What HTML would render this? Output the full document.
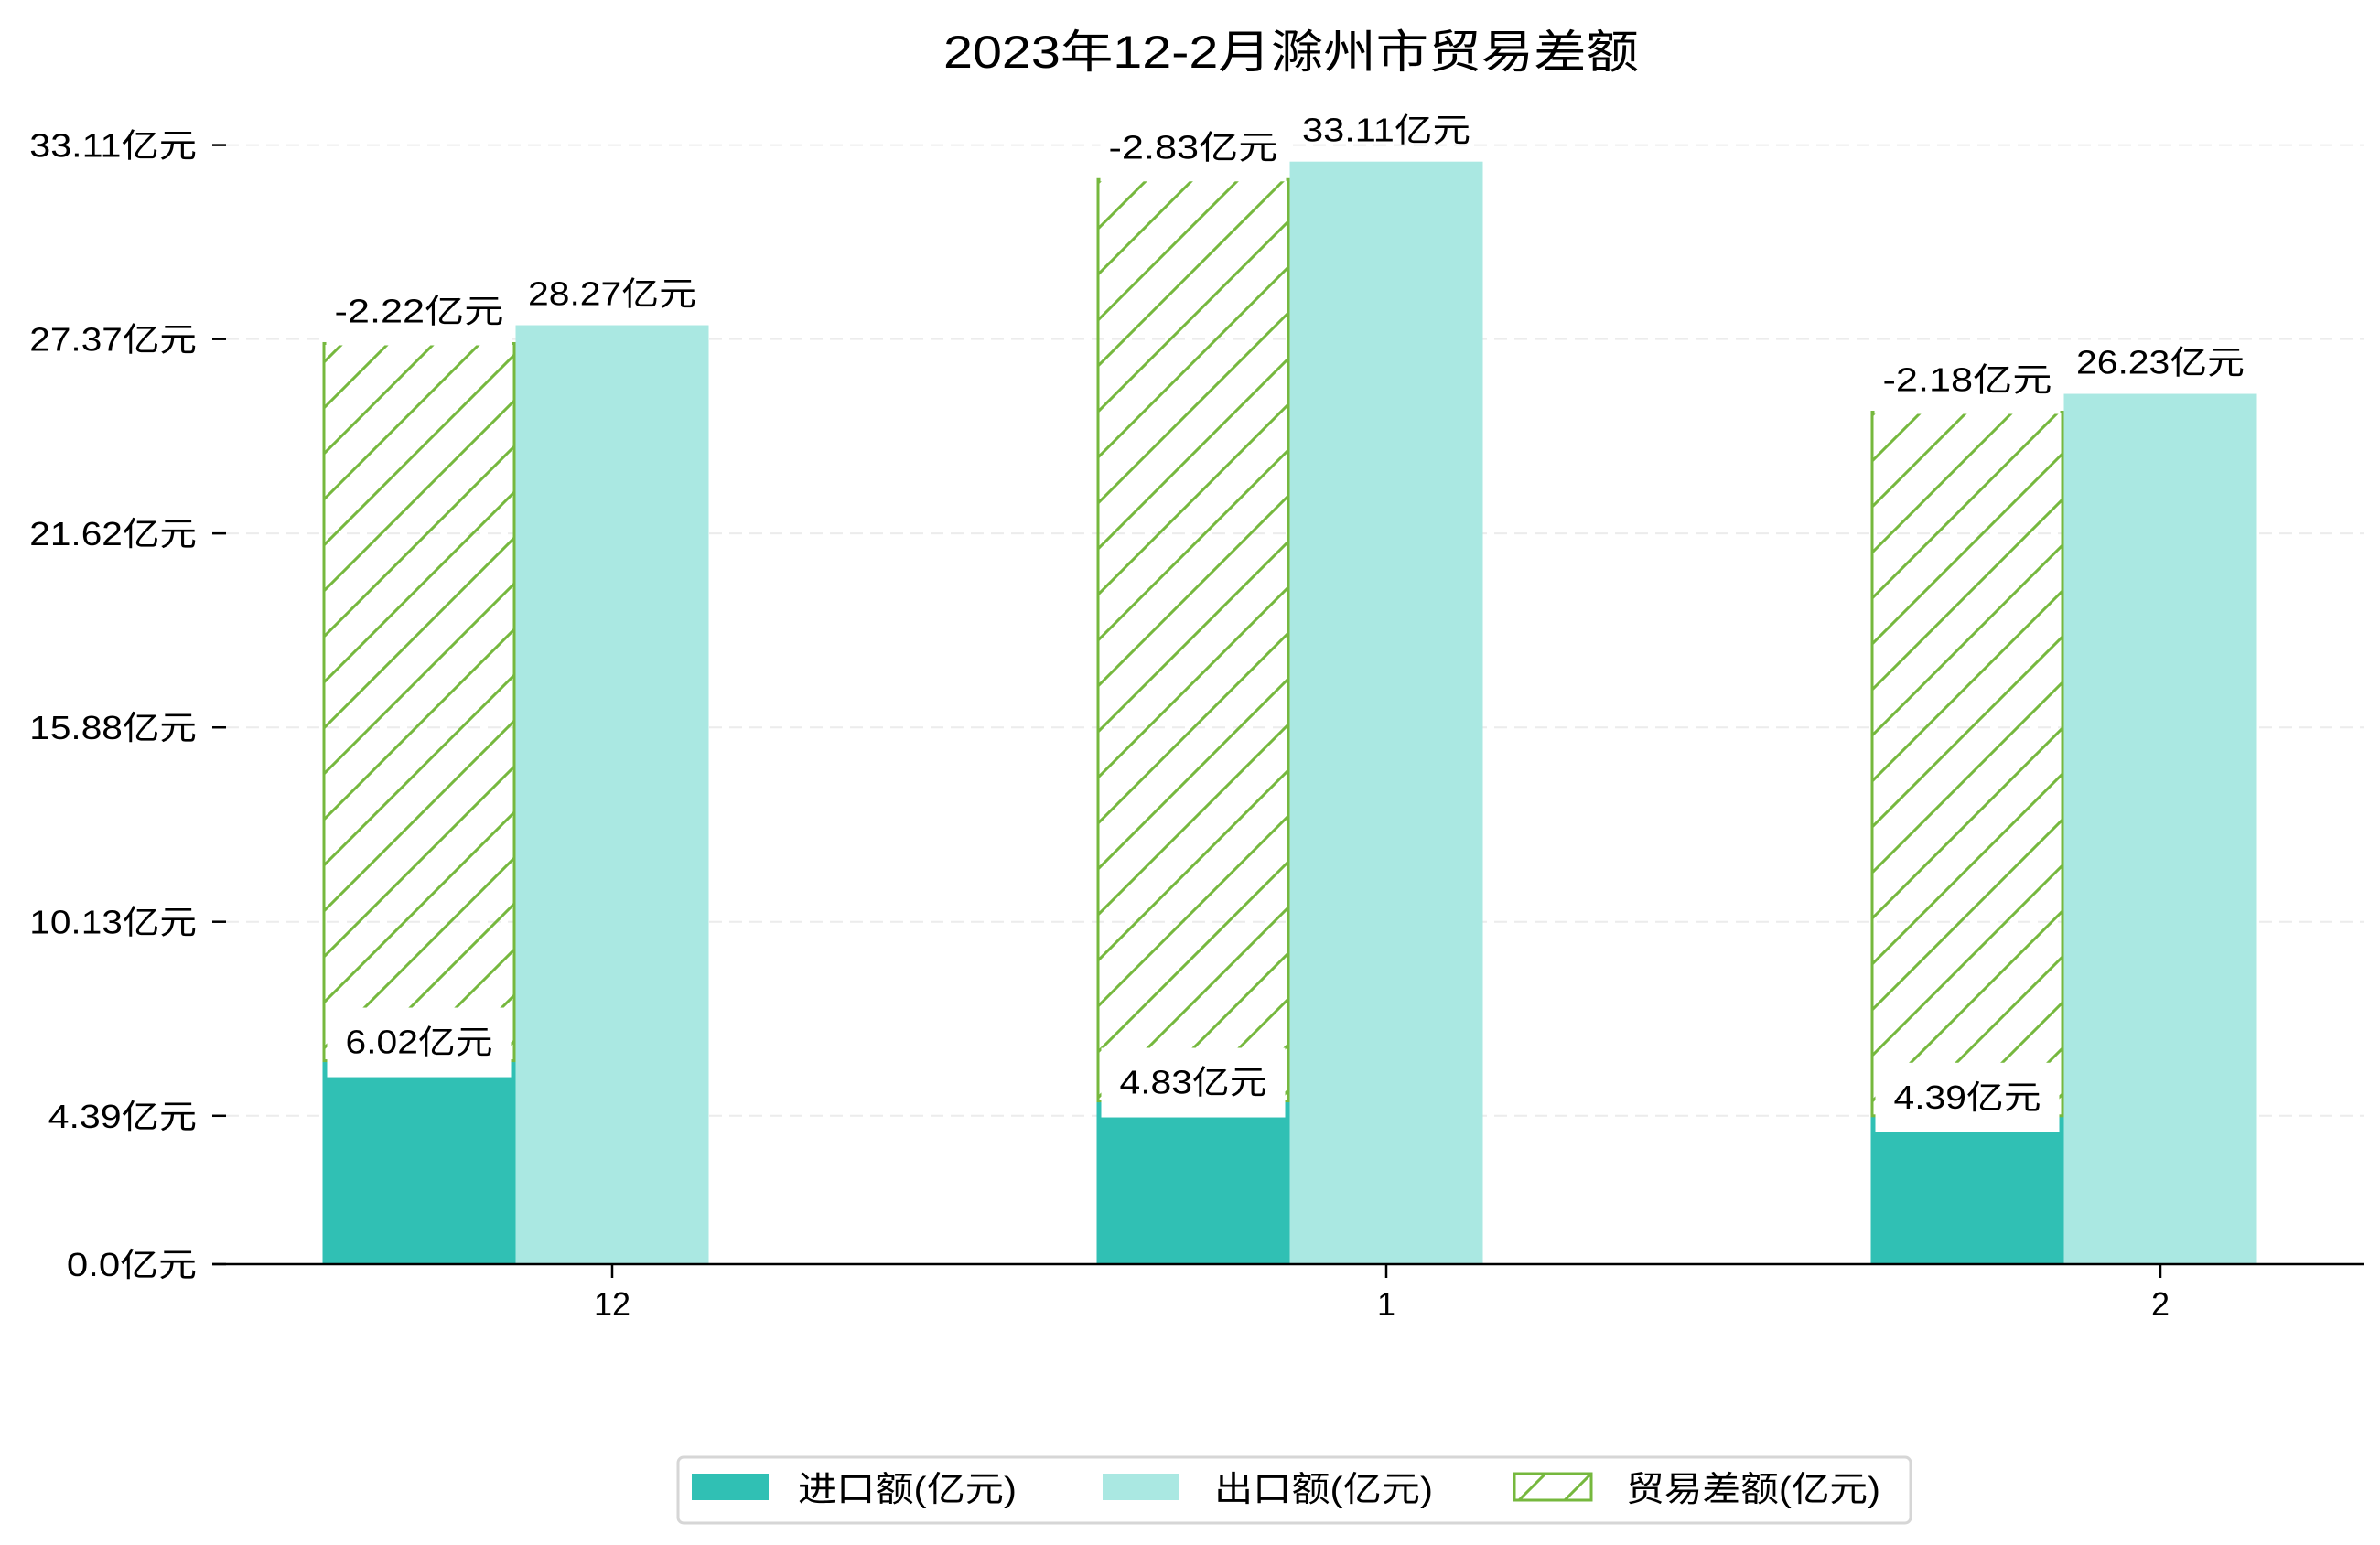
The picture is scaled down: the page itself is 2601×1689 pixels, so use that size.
<!DOCTYPE html>
<html><head><meta charset="utf-8">
<style>
html,body{margin:0;padding:0;background:#fff;}
svg{display:block;font-family:"Liberation Sans","Noto Sans CJK SC",sans-serif;}
</style></head>
<body>
<svg id="chart" width="2601" height="1689" viewBox="0 0 2601 1689" xmlns="http://www.w3.org/2000/svg">
<defs>
<pattern id="hatch" patternUnits="userSpaceOnUse" width="50" height="50">
<path d="M0,50 L50,0 M-10,10 L10,-10 M40,60 L60,40" stroke="#76b83e" stroke-width="3" fill="none"/>
</pattern>
</defs>
<rect x="0" y="0" width="2601" height="1689" fill="#fff"/>
<text x="1411" y="74" text-anchor="middle" font-size="50" textLength="760" lengthAdjust="spacingAndGlyphs">2023年12-2月滁州市贸易差额</text>
<g id="grid"></g>
<g id="bars"></g>
<g id="labels"></g>
<g id="axes"></g>
<g>
<rect x="741" y="1593" width="1347" height="72" rx="6" fill="#fff" stroke="#d6d6d6" stroke-width="3"/>
<rect x="756" y="1611" width="84" height="29" fill="#30c0b4"/>
<text x="872" y="1641" font-size="38" textLength="239" lengthAdjust="spacingAndGlyphs">进口额(亿元)</text>
<rect x="1205" y="1611" width="84" height="29" fill="#aae8e2"/>
<text x="1327" y="1641" font-size="38" textLength="239" lengthAdjust="spacingAndGlyphs">出口额(亿元)</text>
<rect x="1655" y="1611" width="84" height="29" fill="url(#hatch)" stroke="#76b83e" stroke-width="3"/>
<text x="1777" y="1641" font-size="38" textLength="278" lengthAdjust="spacingAndGlyphs">贸易差额(亿元)</text>
</g>
</svg>
<script>
const categories = ["12", "1", "2"];
const importValues = [6.02, 4.83, 4.39];
const exportBarValues = [27.78, 32.62, 25.75];
const balanceTopValues = [27.24, 32.09, 25.21];
const importLabels = ["6.02亿元", "4.83亿元", "4.39亿元"];
const exportLabels = ["28.27亿元", "33.11亿元", "26.23亿元"];
const balanceLabels = ["-2.22亿元", "-2.83亿元", "-2.18亿元"];
const yTickValues = [0, 4.39, 10.13, 15.88, 21.62, 27.37, 33.11];
const yTickLabels = ["0.0亿元", "4.39亿元", "10.13亿元", "15.88亿元", "21.62亿元", "27.37亿元", "33.11亿元"];

const NS = "http://www.w3.org/2000/svg";
const Y0 = 1382, PX = 36.95;
function yS(v){ return Y0 - v * PX; }
function xS(i){ return 669 + i * 846; }
const BW = 211;
function mk(tag, attrs, parent){
  const e = document.createElementNS(NS, tag);
  for (const k in attrs) e.setAttribute(k, attrs[k]);
  parent.appendChild(e);
  return e;
}
function labelLen(s){ return (s.length - 2) * 20.3 + 2 * 40.6; }
const grid = document.getElementById('grid');
const bars = document.getElementById('bars');
const labels = document.getElementById('labels');
const axes = document.getElementById('axes');

yTickValues.forEach((v, i) => {
  const y = yS(v);
  if (v > 0) {
    const g = mk('line', {x1: 247, x2: 2584, y1: y, y2: y, stroke: '#ececec', 'stroke-width': 2, 'stroke-dasharray': '14,8'}, grid);
    
    
  }
  const t = mk('line', {x1: 232, x2: 247, y1: y, y2: y, stroke: '#000', 'stroke-width': 2.5}, axes);
  
  
  const lbl = mk('text', {x: 215, y: y + 13, 'text-anchor': 'end', 'font-size': 36, textLength: labelLen(yTickLabels[i]), lengthAdjust: 'spacingAndGlyphs'}, axes);
  
  
  lbl.textContent = yTickLabels[i];
});

categories.forEach((c, i) => {
  const xc = xS(i);
  const xl = xc - BW * 1.5, xm = xc - BW / 2;
  const d = mk('rect', {x: xl, y: yS(importValues[i]), width: BW, height: Y0 - yS(importValues[i]), fill: '#30c0b4'}, bars);
  
  
  const hTop = yS(balanceTopValues[i]), hBot = yS(importValues[i]);
  const h = mk('rect', {x: xl + 1.5, y: hTop, width: BW - 3, height: hBot - hTop, fill: 'url(#hatch)', stroke: '#76b83e', 'stroke-width': 3}, bars);
  
  
  const e = mk('rect', {x: xm, y: yS(exportBarValues[i]), width: BW, height: Y0 - yS(exportBarValues[i]), fill: '#aae8e2'}, bars);
  
  

  const bb = mk('rect', {x: xl + 4, y: hTop - 62, width: BW - 8, height: 64, fill: '#fff'}, labels);
  
  
  const bt = mk('text', {x: xl + BW / 2, y: hTop - 23, 'text-anchor': 'middle', 'font-size': 36, textLength: 185, lengthAdjust: 'spacingAndGlyphs'}, labels);
  
  
  bt.textContent = balanceLabels[i];
  const et = mk('text', {x: xm + BW / 2, y: yS(exportBarValues[i]) - 22, 'text-anchor': 'middle', 'font-size': 36, textLength: 184, lengthAdjust: 'spacingAndGlyphs'}, labels);
  
  
  et.textContent = exportLabels[i];
  const iy = yS(importValues[i]);
  const ib = mk('rect', {x: xl + 5, y: iy - 58, width: BW - 10, height: 76, fill: '#fff'}, labels);
  
  
  const it = mk('text', {x: xl + BW / 2, y: iy - 8, 'text-anchor': 'middle', 'font-size': 36, textLength: 161, lengthAdjust: 'spacingAndGlyphs'}, labels);
  
  
  it.textContent = importLabels[i];

  const tk = mk('line', {x1: xc, x2: xc, y1: Y0, y2: Y0 + 15, stroke: '#000', 'stroke-width': 2.5}, axes);
  
  
  const xl2 = mk('text', {x: xc, y: Y0 + 56, 'text-anchor': 'middle', 'font-size': 36}, axes);
  
  
  xl2.textContent = c;
});
const ax = mk('line', {x1: 232, x2: 2584, y1: Y0, y2: Y0, stroke: '#000', 'stroke-width': 2.5}, axes);


</script>
</body></html>
